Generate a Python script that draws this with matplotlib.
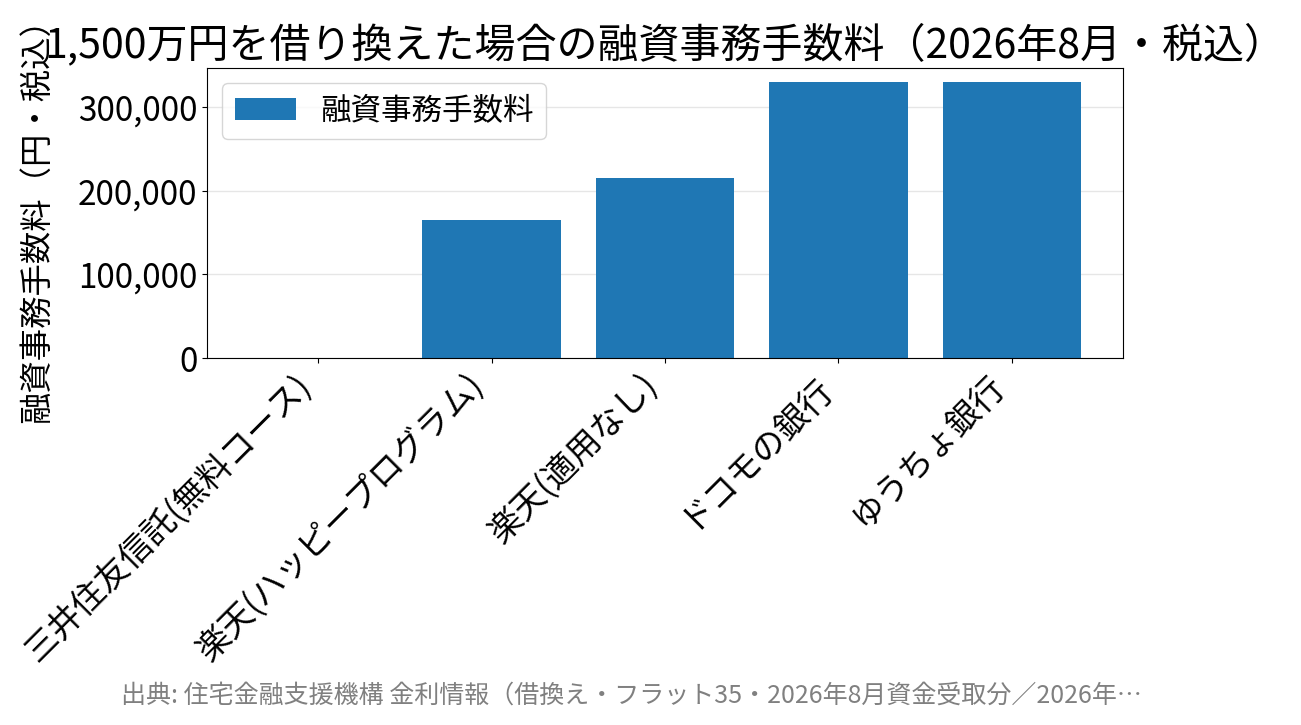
import matplotlib
matplotlib.use("Agg")
import matplotlib.pyplot as plt
from matplotlib.ticker import FuncFormatter

plt.rcParams['font.family'] = ['Noto Sans CJK JP', 'DejaVu Sans']

# data
banks = ["三井住友信託(無料コース)", "楽天(ハッピープログラム)", "楽天(適用なし)", "ドコモの銀行", "ゆうちょ銀行"]
fees = [0, 165000, 214500, 330000, 330000]

fig = plt.figure(figsize=(13.01, 7.25), dpi=100)
ax = fig.add_axes([207 / 1301, 1 - 358 / 725, (1123 - 207) / 1301, (358 - 68) / 725])

ax.bar(range(len(banks)), fees, width=0.8, color="#1f77b4", label="融資事務手数料")
ax.set_xticks(range(len(banks)))
ax.set_xticklabels(banks, rotation=45, ha="right", fontsize=24)
ax.tick_params(axis="y", labelsize=24)
ax.yaxis.set_major_formatter(FuncFormatter(lambda v, p: f"{int(v):,}"))
ax.grid(axis="y", color="#e6e6e6", linewidth=1)
ax.set_axisbelow(True)

ax.set_title("1,500万円を借り換えた場合の融資事務手数料（2026年8月・税込）", fontsize=29.5, pad=8)
# slightly smaller than the ticks so the vertical label stays inside the figure
ax.set_ylabel("融資事務手数料（円・税込）", fontsize=23.3, labelpad=18)
ax.legend(loc="upper left", fontsize=22)

fig.text(0.485, 0.04, "出典: 住宅金融支援機構 金利情報（借換え・フラット35・2026年8月資金受取分／2026年…",
         ha="center", va="center", color="gray", fontsize=18)

fig.savefig("out.png", dpi=100)
